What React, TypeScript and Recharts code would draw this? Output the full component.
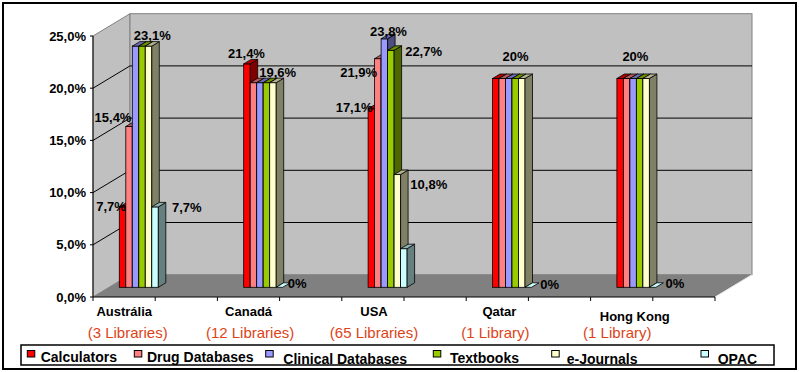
import React from "react";
import { BarChart, Bar, XAxis, YAxis, CartesianGrid, LabelList } from "recharts";

const COUNTRIES = ["Austrália", "Canadá", "USA", "Qatar", "Hong Kong"];
const LIBRARY_COUNTS = ["(3 Libraries)", "(12 Libraries)", "(65 Libraries)", "(1 Library)", "(1 Library)"];

const CALCULATORS = [7.7, 21.4, 17.1, 20, 20];
const DRUG_DATABASES = [15.4, 19.6, 21.9, 20, 20];
const CLINICAL_DATABASES = [23.1, 19.6, 23.8, 20, 20];
const TEXTBOOKS = [23.1, 19.6, 22.7, 20, 20];
const E_JOURNALS = [23.1, 19.6, 10.8, 20, 20];
const OPAC = [7.7, 0, 3.7, 0, 0];

const Y_TICKS = [0, 5, 10, 15, 20, 25];

const SERIES = [
  { key: "calculators", label: "Calculators", values: CALCULATORS, color: "#FF0000" },
  { key: "drugDatabases", label: "Drug Databases", values: DRUG_DATABASES, color: "#FF8080" },
  { key: "clinicalDatabases", label: "Clinical Databases", values: CLINICAL_DATABASES, color: "#9999FF" },
  { key: "textbooks", label: "Textbooks", values: TEXTBOOKS, color: "#99CC00" },
  { key: "eJournals", label: "e-Journals", values: E_JOURNALS, color: "#FFFFCC" },
  { key: "opac", label: "OPAC", values: OPAC, color: "#CCFFFF" },
];

const rows = COUNTRIES.map((country, i) => {
  const row: Record<string, string | number> = { country };
  SERIES.forEach((s) => (row[s.key] = s.values[i]));
  return row;
});

// geometry of the fake 3d box
const W = 799;
const H = 372;
const PLOT_LEFT = 93;
const PLOT_RIGHT = 715;
const PLOT_TOP = 36;
const PLOT_BOTTOM = 297;
const BAND = (PLOT_RIGHT - PLOT_LEFT) / COUNTRIES.length;
const WALL_DX = 37;
const WALL_DY = -22.3;
const BAR_SHIFT_X = -16.7;
const BAR_SHIFT_Y = -9.7;
const BAR_DX = 7.5;
const BAR_DY = -4.5;

const FONT = "'Liberation Sans', Arial, sans-serif";
const LIB_COLOR = "#DC4418";

// which data labels are shown, offset of text centre from bar's front top-left
const LABEL_SPOTS: Record<string, Record<number, [number, number]>> = {
  calculators: { 0: [-8.3, -1], 1: [2.8, -10.6], 2: [-14, -1.5] },
  drugDatabases: { 0: [-12.8, -9.2], 2: [-16, 14] },
  clinicalDatabases: { 0: [20, -11], 2: [7.4, -8] },
  textbooks: { 2: [36, 1.4], 3: [3.5, -22.5], 4: [-1, -22.5] },
  eJournals: { 1: [8, -10], 2: [34.7, 9.5] },
  opac: { 0: [35, 0], 1: [21, -4], 3: [24.7, -3.3], 4: [25.6, -4] },
};

const NAME_NUDGE = [-31, -31, -30, -29, -18];
const NAME_DY = [19, 19, 19, 19, 23.5];
const LIB_NUDGE = [-27.5, -29.5, -30, -33, -35.5];
const LIB_DY = [40.5, 40.5, 40.5, 40.5, 41];

const LEGEND_LAYOUT = [
  { marker: 27.3, text: 40.7, base: 361.7 },
  { marker: 134.3, text: 147, base: 361.7 },
  { marker: 265.7, text: 283.3, base: 364 },
  { marker: 433.3, text: 450, base: 362.7 },
  { marker: 551.7, text: 566.7, base: 364 },
  { marker: 701, text: 717.7, base: 364 },
];

function shade(hex: string, f: number) {
  const n = parseInt(hex.slice(1), 16);
  const r = Math.round(((n >> 16) & 255) * f);
  const g = Math.round(((n >> 8) & 255) * f);
  const b = Math.round((n & 255) * f);
  return `rgb(${r},${g},${b})`;
}

function fmtPct(v: number) {
  return Number.isInteger(v) ? `${v}%` : `${v.toFixed(1).replace(".", ",")}%`;
}

function makeBarShape(color: string) {
  const top = shade(color, 0.7);
  const side = shade(color, 0.5);
  return (props: any) => {
    const w = Number(props.width) || 0;
    const h = Math.max(0, Number(props.height) || 0);
    const x = Number(props.x) + BAR_SHIFT_X;
    const y = Number(props.y) + BAR_SHIFT_Y;
    const tx = x + BAR_DX;
    const ty = y + BAR_DY;
    return (
      <g>
        {h > 0 && <rect x={x} y={y} width={w} height={h} fill={color} stroke="#000" strokeWidth={0.8} />}
        {h > 0 && (
          <polygon
            points={`${x + w},${y} ${tx + w},${ty} ${tx + w},${ty + h} ${x + w},${y + h}`}
            fill={side}
            stroke="#000"
            strokeWidth={0.8}
          />
        )}
        <polygon
          points={`${x},${y} ${tx},${ty} ${tx + w},${ty} ${x + w},${y}`}
          fill={h > 0 ? top : color}
          stroke="#000"
          strokeWidth={0.8}
        />
      </g>
    );
  };
}

function makeLabel(seriesKey: string) {
  return (p: any) => {
    const spot = LABEL_SPOTS[seriesKey]?.[p.index];
    if (!spot) return null;
    const cx = Number(p.x) + BAR_SHIFT_X + spot[0];
    const cy = Number(p.y) + BAR_SHIFT_Y + spot[1];
    return (
      <text
        key={`${seriesKey}-${p.index}`}
        x={cx}
        y={cy + 4.7}
        textAnchor="middle"
        fontFamily={FONT}
        fontWeight="bold"
        fontSize={13}
        fill="#000"
      >
        {fmtPct(Number(p.value))}
      </text>
    );
  };
}

function renderGridLine(p: any) {
  const { x1, x2, y1 } = p;
  if (Math.abs(y1 - PLOT_BOTTOM) < 1 || Math.abs(y1 - PLOT_TOP) < 1) return <g key={p.key} />;
  return (
    <g key={p.key}>
      <line x1={x1} y1={y1} x2={x1 + WALL_DX} y2={y1 + WALL_DY} stroke="#000" />
      <line x1={x1 + WALL_DX} y1={y1 + WALL_DY} x2={x2 + WALL_DX} y2={y1 + WALL_DY} stroke="#000" />
    </g>
  );
}

function CategoryTick(props: any) {
  const { x, y, payload, index } = props;
  const half = BAND / 2;
  const last = index === COUNTRIES.length - 1;
  return (
    <g>
      <line x1={x - half} x2={x - half} y1={y} y2={y + 4} stroke="#000" />
      <line x1={x} x2={x} y1={y} y2={y + 4} stroke="#000" />
      {last && <line x1={x + half} x2={x + half} y1={y} y2={y + 4} stroke="#000" />}
      <text
        x={x + NAME_NUDGE[index]}
        y={y + NAME_DY[index]}
        textAnchor="middle"
        fontFamily={FONT}
        fontWeight="bold"
        fontSize={13}
        fill="#000"
      >
        {payload.value}
      </text>
      <text
        x={x + LIB_NUDGE[index]}
        y={y + LIB_DY[index]}
        textAnchor="middle"
        fontFamily={FONT}
        fontSize={15}
        fill={LIB_COLOR}
      >
        {LIBRARY_COUNTS[index]}
      </text>
    </g>
  );
}

function Backdrop() {
  const bL = PLOT_LEFT + WALL_DX;
  const bR = PLOT_RIGHT + WALL_DX;
  const bT = PLOT_TOP + WALL_DY;
  const bB = PLOT_BOTTOM + WALL_DY;
  return (
    <svg width={W} height={H} style={{ position: "absolute", left: 0, top: 0 }}>
      <rect x={3} y={3} width={793} height={366} fill="#fff" stroke="#000" strokeWidth={2} />
      <polygon
        points={`${PLOT_LEFT},${PLOT_BOTTOM} ${PLOT_LEFT},${PLOT_TOP} ${bL},${bT} ${bL},${bB}`}
        fill="#C0C0C0"
        stroke="#808080"
      />
      <rect x={bL} y={bT} width={bR - bL} height={bB - bT} fill="#C0C0C0" stroke="#808080" />
      <polygon
        points={`${PLOT_LEFT},${PLOT_BOTTOM} ${PLOT_RIGHT},${PLOT_BOTTOM} ${bR},${bB} ${bL},${bB}`}
        fill="#808080"
      />
      <line x1={PLOT_RIGHT} y1={PLOT_BOTTOM} x2={bR} y2={bB} stroke="#E8E8E8" />
    </svg>
  );
}

function LegendBox() {
  return (
    <svg width={W} height={H} style={{ position: "absolute", left: 0, top: 0, pointerEvents: "none" }}>
      <rect x={21} y={345} width={753} height={20} fill="#fff" stroke="#000" strokeWidth={1.5} />
      {SERIES.map((s, i) => {
        const l = LEGEND_LAYOUT[i];
        return (
          <g key={s.key}>
            <rect x={l.marker} y={350.5} width={7.5} height={6.5} fill={s.color} stroke="#000" />
            <text x={l.text} y={l.base} fontFamily={FONT} fontWeight="bold" fontSize={14} fill="#000">
              {s.label}
            </text>
          </g>
        );
      })}
    </svg>
  );
}

export default function App() {
  return (
    <div style={{ position: "absolute", left: 0, top: 0, width: W, height: H, background: "#fff" }}>
      <Backdrop />
      <div style={{ position: "absolute", left: 0, top: 0 }}>
        <BarChart
          width={W}
          height={H}
          data={rows}
          margin={{ top: PLOT_TOP, right: W - PLOT_RIGHT, bottom: 0, left: 0 }}
          barGap={0}
          barSize={6.5}
        >
          <CartesianGrid vertical={false} horizontal={renderGridLine} />
          <XAxis
            dataKey="country"
            height={H - PLOT_BOTTOM}
            interval={0}
            tickSize={0}
            tickMargin={0}
            tickLine={false}
            axisLine={{ stroke: "#000" }}
            tick={<CategoryTick />}
          />
          <YAxis
            width={PLOT_LEFT}
            domain={[0, 25]}
            ticks={Y_TICKS}
            tickSize={3}
            tickMargin={4}
            tickLine={{ stroke: "#000" }}
            axisLine={{ stroke: "#000" }}
            tickFormatter={(v: number) => `${v.toFixed(1).replace(".", ",")}%`}
            tick={{ fontFamily: FONT, fontWeight: "bold", fontSize: 13, fill: "#000" }}
          />
          {SERIES.map((s) => (
            <Bar
              key={s.key}
              dataKey={s.key}
              name={s.label}
              fill={s.color}
              isAnimationActive={false}
              shape={makeBarShape(s.color)}
            >
              <LabelList dataKey={s.key} content={makeLabel(s.key)} />
            </Bar>
          ))}
        </BarChart>
      </div>
      <LegendBox />
    </div>
  );
}
